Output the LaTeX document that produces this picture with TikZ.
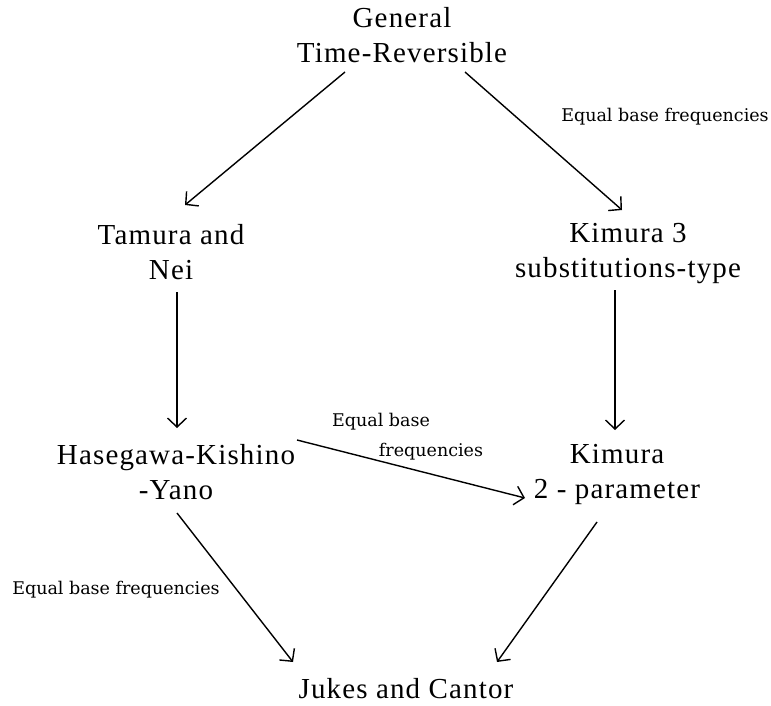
\documentclass[tikz,border=0pt]{standalone}
\usepackage{fontspec}
\setmainfont{Liberation Serif}[LetterSpace=4]
\newfontfamily\smallserif{DejaVu Serif}
\usetikzlibrary{arrows.meta}
\begin{document}
\begin{tikzpicture}[x=1pt,y=-1pt,
  model/.style={font=\fontsize{29}{35}\selectfont, align=center, inner sep=0pt},
  lbl/.style={font=\smallserif\fontsize{17.5}{21}\selectfont, inner sep=0pt},
  conn/.style={line width=1.4pt, -{Straight Barb[length=9pt,width=19pt,line width=1.4pt]}}]
\useasboundingbox (0,0) rectangle (771,706);
\node[model] (gtr) at (402,35) {General\\Time-Reversible};
\node[model] (tn) at (171,252) {Tamura and\\Nei};
\node[model] (k3) at (628,254) {Kimura 3\\substitutions-type};
\node[model] (hky) at (176,472) {Hasegawa-Kishino\\-Yano};
\node[model] (k2) at (617,474) {Kimura\\2 - parameter};
\node[model, anchor=base] (jc) at (406,698) {Jukes and Cantor};
\node[lbl] (l1) at (665,117) {Equal base frequencies};
\node[lbl] (l2a) at (381,422) {Equal base};
\node[lbl] (l2b) at (431,452) {frequencies};
\node[lbl] (l3) at (116,590) {Equal base frequencies};
\draw[conn] ([shift={(-57,37)}]gtr.center) -- ([shift={(14,-47)}]tn.center);
\draw[conn] ([shift={(63,37)}]gtr.center) -- ([shift={(-6,-44)}]k3.center);
\draw[conn] ([shift={(6,40)}]tn.center) -- ([shift={(1,-44)}]hky.center);
\draw[conn] ([shift={(-13,36)}]k3.center) -- ([shift={(-2,-44)}]k2.center);
\draw[conn] ([shift={(121,-32)}]hky.center) -- ([shift={(-92,24)}]k2.center);
\draw[conn] ([shift={(1,41)}]hky.center) -- ([shift={(-113,-36)}]jc.base);
\draw[conn] ([shift={(-20,48)}]k2.center) -- ([shift={(91,-36)}]jc.base);
\end{tikzpicture}
\end{document}
